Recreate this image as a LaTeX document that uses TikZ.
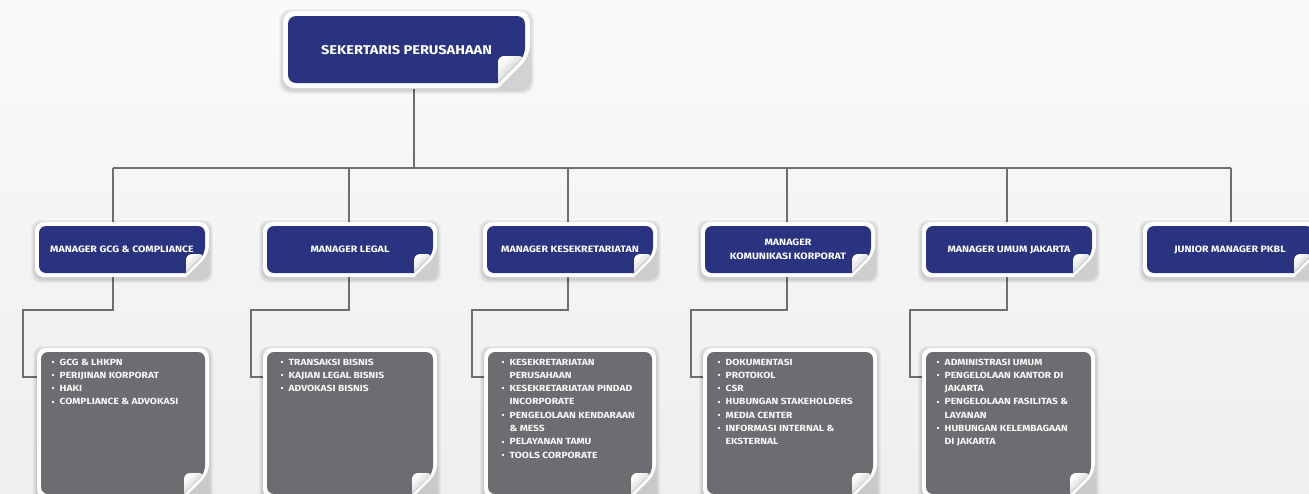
\documentclass[tikz,border=0pt]{standalone}
\usepackage{fontspec}
\setmainfont{Fira Sans}[FakeStretch=1.15]
\definecolor{navy}{RGB}{41,51,128}
\definecolor{slate}{RGB}{108,109,113}
\definecolor{linegray}{RGB}{110,110,112}
\pgfdeclarelayer{bg}
\pgfsetlayers{bg,main}
% #1 L, #2 T, #3 R, #4 B, #5 inset, #6 outer radius, #7 fill, #8 flap, #9 inner radius
\newcommand\cardshape[9]{%
  \foreach \k in {1,2,3,4}{\fill[black,opacity=0.04,rounded corners=#6pt] (#1-\k,#2-\k+2) rectangle (#3+\k,#4+\k+2);}
  \fill[white,rounded corners=#6pt] (#1,#2) -- (#3,#2) -- (#3,#4-#8-#5) [sharp corners] -- (#3-#8-#5,#4) [rounded corners=#6pt] -- (#1,#4) -- cycle;
  \fill[#7,rounded corners=#9pt] (#1+#5,#2+#5) -- (#3-#5,#2+#5) -- (#3-#5,#4-#5-#8) [sharp corners] -- (#3-#5-#8,#4-#5) [rounded corners=#9pt] -- (#1+#5,#4-#5) -- cycle;
  \shade[top color=white, bottom color=gray!55, shading angle=45] (#3-#5-#8,#4-#5) [rounded corners=6pt] -- (#3-#5-#8,#4-#5-#8) -- (#3-#5,#4-#5-#8) [sharp corners] -- cycle;
}
\newcommand\bitem{\makebox[7.5pt][l]{\raisebox{2.2pt}{\rule{2.1pt}{2.1pt}}}}
\newcommand\bcont{\hspace*{7.5pt}}
\begin{document}
\begin{tikzpicture}[x=1pt,y=-1pt,
  conn/.style={draw=linegray, line width=2.8pt},
  topbox/.style={inner sep=0pt, minimum width=247pt, minimum height=77pt, text=white, font=\fontsize{12.7}{14}\selectfont\bfseries},
  mgrbox/.style={inner sep=0pt, minimum width=174pt, minimum height=55pt, text=white, align=center, font=\fontsize{9.25}{14}\selectfont\bfseries},
  subbox/.style={inner sep=0pt, minimum width=172pt, minimum height=150pt},
  subtext/.style={inner sep=0pt, anchor=north west, align=left, text=white!95!gray, font=\fontsize{8.9}{13.3}\selectfont\bfseries}]
\useasboundingbox (0,0) rectangle (1309,493);
\clip (0,0) rectangle (1309,493);
\begin{pgfonlayer}{bg}
\shade[top color=gray!4, bottom color=gray!13] (0,0) rectangle (1309,493);
\end{pgfonlayer}
% top
\cardshape{283}{11}{530}{88}{5}{11}{navy}{27}{8}
\node[topbox] (top) at (406.5,50) {SEKERTARIS PERUSAHAAN};
% managers
\cardshape{35}{222}{209}{277}{4}{9}{navy}{19}{7}
\node[mgrbox] (m1) at (122,249.5) {MANAGER GCG \& COMPLIANCE};
\cardshape{263}{222}{437}{277}{4}{9}{navy}{19}{7}
\node[mgrbox] (m2) at (350,249.5) {MANAGER LEGAL};
\cardshape{483}{222}{657}{277}{4}{9}{navy}{19}{7}
\node[mgrbox] (m3) at (570,249.5) {MANAGER KESEKRETARIATAN};
\cardshape{701}{222}{875}{277}{4}{9}{navy}{19}{7}
\node[mgrbox] (m4) at (788,249.5) {MANAGER\\KOMUNIKASI KORPORAT};
\cardshape{922}{222}{1096}{277}{4}{9}{navy}{19}{7}
\node[mgrbox] (m5) at (1009,249.5) {MANAGER UMUM JAKARTA};
\cardshape{1143}{222}{1317}{277}{4}{9}{navy}{19}{7}
\node[mgrbox] (m6) at (1230,249.5) {JUNIOR MANAGER PKBL};
% sub boxes
\cardshape{37}{348}{209}{498}{4}{9}{slate}{21}{7}
\node[subbox] (s1) at (123,423) {};
\node[subtext] (s1t) at (52,358.5) {\bitem GCG \& LHKPN\\\bitem PERIJINAN KORPORAT\\\bitem HAKI\\\bitem COMPLIANCE \& ADVOKASI};
\cardshape{263}{348}{437}{498}{4}{9}{slate}{21}{7}
\node[subbox] (s2) at (350,423) {};
\node[subtext] (s2t) at (281,358.5) {\bitem TRANSAKSI BISNIS\\\bitem KAJIAN LEGAL BISNIS\\\bitem ADVOKASI BISNIS};
\cardshape{484}{348}{656}{498}{4}{9}{slate}{21}{7}
\node[subbox] (s3) at (570,423) {};
\node[subtext] (s3t) at (502,358.5) {\bitem KESEKRETARIATAN\\\bcont PERUSAHAAN\\\bitem KESEKRETARIATAN PINDAD\\\bcont INCORPORATE\\\bitem PENGELOLAAN KENDARAAN\\\bcont \& MESS\\\bitem PELAYANAN TAMU\\\bitem TOOLS CORPORATE};
\cardshape{703}{348}{877}{498}{4}{9}{slate}{21}{7}
\node[subbox] (s4) at (790,423) {};
\node[subtext] (s4t) at (718,358.5) {\bitem DOKUMENTASI\\\bitem PROTOKOL\\\bitem CSR\\\bitem HUBUNGAN STAKEHOLDERS\\\bitem MEDIA CENTER\\\bitem INFORMASI INTERNAL \&\\\bcont EKSTERNAL};
\cardshape{922}{348}{1095}{498}{4}{9}{slate}{21}{7}
\node[subbox] (s5) at (1008.5,423) {};
\node[subtext] (s5t) at (937,358.5) {\bitem ADMINISTRASI UMUM\\\bitem PENGELOLAAN KANTOR DI\\\bcont JAKARTA\\\bitem PENGELOLAAN FASILITAS \&\\\bcont LAYANAN\\\bitem HUBUNGAN KELEMBAGAAN\\\bcont DI JAKARTA};
% connector points
\coordinate (d0) at (414,168);
\coordinate (d1) at (113,168);
\coordinate (d2) at (349,168);
\coordinate (d3) at (568,168);
\coordinate (d4) at (787,168);
\coordinate (d5) at (1007,168);
\coordinate (d6) at (1231,168);
\coordinate (k1) at (23,310);
\coordinate (k2) at (251,310);
\coordinate (k3) at (472,310);
\coordinate (k4) at (691,310);
\coordinate (k5) at (910,310);
\coordinate (e) at (0,377);
\begin{pgfonlayer}{bg}
\draw[conn] (top.south -| d0) -- (d0);
\draw[conn] (d1) -- (d6);
\foreach \i in {1,...,6}{\draw[conn] (d\i) -- (m\i.north -| d\i);}
\foreach \i in {1,...,5}{\draw[conn] (m\i.south -| d\i) |- (k\i) |- (s\i.west |- e);}
\end{pgfonlayer}
\end{tikzpicture}
\end{document}
